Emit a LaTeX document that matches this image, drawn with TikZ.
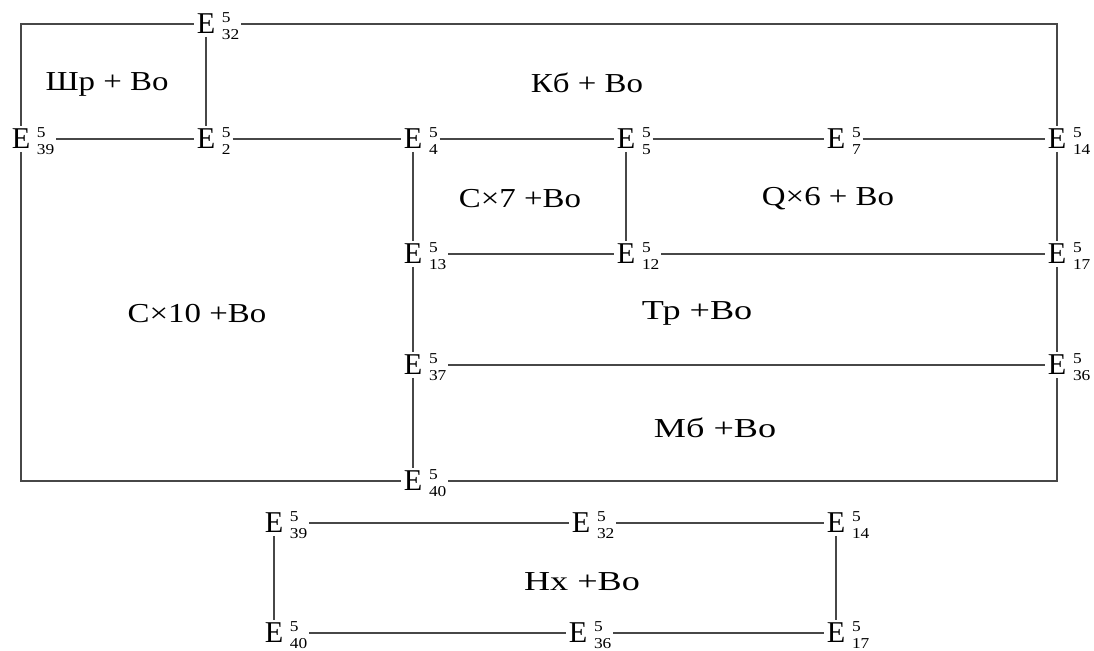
\documentclass[tikz,border=0pt]{standalone}
\usepackage{fontspec}
\setmainfont{Liberation Serif}
\usetikzlibrary{positioning}
\begin{document}
\begin{tikzpicture}[x=0.02cm, y=-0.02cm]

	% Kiểu cho điểm, chỉ số, nhãn và đường nối
	\tikzset{
		ptE/.style={inner sep=1.5pt, font=\fontsize{17.2}{18}\selectfont},
		chiSo/.style={inner sep=0.8pt, xscale=1.15, font=\fontsize{8.6}{9.4}\selectfont},
		nhan/.style={xscale=1.2, font=\fontsize{15.6}{17}\selectfont},
		nhanRong/.style={nhan, xscale=1.1},
		duong/.style={line width=0.8pt, black!72}
	}

	\useasboundingbox (0,0) rectangle (1094,651);

	% Các điểm E (tên / x / y / chỉ số dưới)
	\foreach \ten/\x/\y/\k in {e32/206/24/32, e39/21/139/39, e2/206/139/2,
		e4/413/139/4, e5/626/139/5, e7/836/139/7, e14/1057/139/14,
		e13/413/254/13, e12/626/254/12, e17/1057/254/17,
		e37/413/365/37, e36/1057/365/36, e40/413/481/40,
		b39/274/523/39, b32/581/523/32, b14/836/523/14,
		b40/274/633/40, b36/578/633/36, b17/836/633/17} {
		\node[ptE] (\ten) at (\x,\y) {E};
		\node[chiSo, right=1pt of \ten, yshift=-2.2pt] (\ten s)
			{\begin{tabular}{@{}l@{}}5\\\k\end{tabular}};
	}

	% Khung ngoài
	\draw[duong] (e32) -- (e39 |- e32) -- (e39);
	\draw[duong] (e32s.east |- e32) -- (e14 |- e32) -- (e14);
	\draw[duong] (e39) -- (e39 |- e40) -- (e40);
	\draw[duong] (e40s.east |- e40) -- (e14 |- e40) -- (e36);

	% Các đường dọc
	\draw[duong] (e14) -- (e17) -- (e36);
	\draw[duong] (e32) -- (e2);
	\draw[duong] (e4) -- (e13) -- (e37) -- (e40);
	\draw[duong] (e5) -- (e12);
	\draw[duong] (b39) -- (b40);
	\draw[duong] (b14) -- (b17);

	% Các đường ngang (từ sau chỉ số đến chữ E kế tiếp)
	\foreach \tu/\den in {e39/e2, e2/e4, e4/e5, e5/e7, e7/e14,
		e13/e12, e12/e17, e37/e36,
		b39/b32, b32/b14, b40/b36, b36/b17} {
		\draw[duong] (\tu s.east |- \tu) -- (\den);
	}

	% Nhãn các vùng
	\node[nhan] (shp) at (107,84) {Шр + Во};
	\node[nhan] (kb) at (587,83) {Кб + Во};
	\node[nhan] (cx7) at (520,199) {С×7 +Во};
	\node[nhan] (qx6) at (828,199) {Q×6 + Во};
	\node[nhan] (cx10) at (197,314) {С×10 +Во};
	\node[nhanRong] (tp) at (697,313) {Тр +Во};
	\node[nhanRong] (mb) at (715,428) {Мб +Во};
	\node[nhanRong] (hx) at (582,582) {Нх +Во};

\end{tikzpicture}
\end{document}
